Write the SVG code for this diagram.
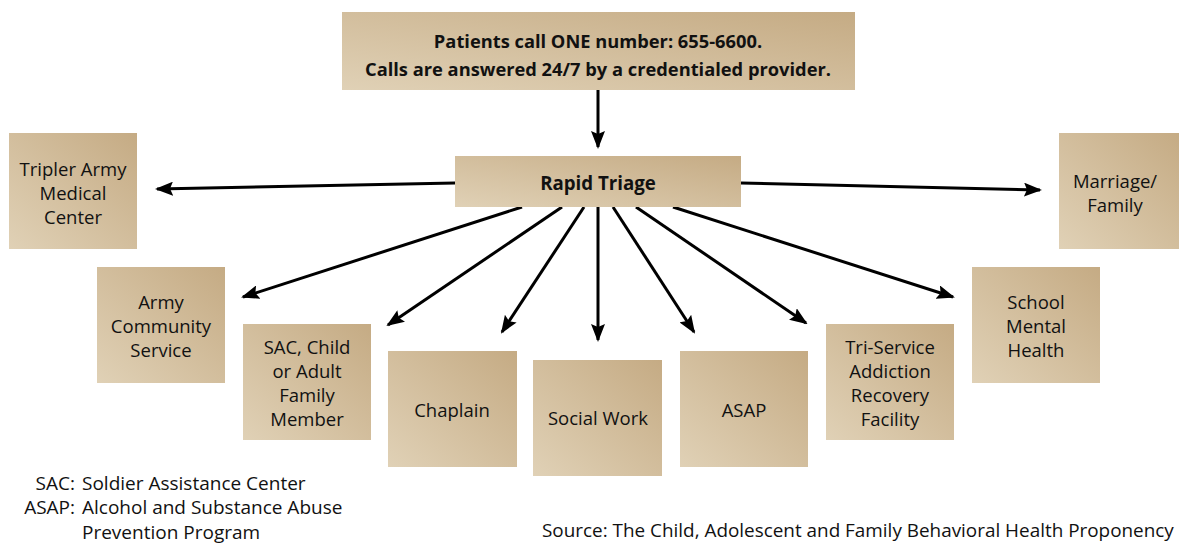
<svg xmlns="http://www.w3.org/2000/svg" width="1179" height="548" viewBox="0 0 1179 548">
<defs>
<linearGradient id="tan" x1="0" y1="1" x2="1" y2="0">
<stop offset="0" stop-color="#e0d1b6"/>
<stop offset="1" stop-color="#c5ab84"/>
</linearGradient>
<marker id="arr" markerUnits="userSpaceOnUse" markerWidth="18" markerHeight="14" refX="16" refY="7" orient="auto">
<path d="M0,0 L18,7 L0,14 L3,7 z" fill="#000"/>
</marker>
</defs>
<style>
.box{fill:url(#tan);}
.t{font-family:"Open Sans","Liberation Sans",sans-serif;font-size:18.5px;fill:#111;text-anchor:middle;}
.b{font-family:"Open Sans","Liberation Sans",sans-serif;font-size:18.3px;font-weight:bold;fill:#111;text-anchor:middle;}
.leg{font-family:"Open Sans","Liberation Sans",sans-serif;font-size:19px;fill:#111;}
.c{stroke:#000;stroke-width:3;fill:none;marker-end:url(#arr);}
</style>
<rect width="1179" height="548" fill="#fff"/>
<g id="connectors">
<line class="c" x1="598" y1="90" x2="598" y2="147"/>
<line class="c" x1="455" y1="183" x2="157" y2="189"/>
<line class="c" x1="741" y1="183" x2="1040" y2="190"/>
<line class="c" x1="522" y1="207" x2="243" y2="297"/>
<line class="c" x1="562" y1="207" x2="388" y2="325"/>
<line class="c" x1="584" y1="207" x2="502" y2="332"/>
<line class="c" x1="598" y1="207" x2="598" y2="340"/>
<line class="c" x1="613" y1="207" x2="694" y2="332"/>
<line class="c" x1="636" y1="207" x2="806" y2="323"/>
<line class="c" x1="673" y1="207" x2="953" y2="297"/>
</g>
<g id="top">
<rect class="box" x="342" y="12" width="513" height="78"/>
<text class="b" x="598" y="48">Patients call ONE number: 655-6600.</text>
<text class="b" x="598" y="76">Calls are answered 24/7 by a credentialed provider.</text>
</g>
<g id="triage">
<rect class="box" x="455" y="156" width="286" height="51"/>
<text class="b" x="598" y="190" style="font-size:18.7px">Rapid Triage</text>
</g>
<g id="tripler">
<rect class="box" x="9" y="133" width="128" height="116"/>
<text class="t" x="73" y="176">Tripler Army</text>
<text class="t" x="73" y="200">Medical</text>
<text class="t" x="73" y="224">Center</text>
</g>
<g id="marriage">
<rect class="box" x="1059" y="133" width="120" height="116"/>
<text class="t" x="1115" y="188">Marriage/</text>
<text class="t" x="1115" y="212">Family</text>
</g>
<g id="acs">
<rect class="box" x="97" y="267" width="128" height="116"/>
<text class="t" x="161" y="309">Army</text>
<text class="t" x="161" y="333">Community</text>
<text class="t" x="161" y="357">Service</text>
</g>
<g id="sac">
<rect class="box" x="243" y="324" width="128" height="116"/>
<text class="t" x="307" y="354">SAC, Child</text>
<text class="t" x="307" y="378">or Adult</text>
<text class="t" x="307" y="402">Family</text>
<text class="t" x="307" y="426">Member</text>
</g>
<g id="chaplain">
<rect class="box" x="388" y="351" width="129" height="116"/>
<text class="t" x="452" y="417">Chaplain</text>
</g>
<g id="socialwork">
<rect class="box" x="533" y="360" width="129" height="116"/>
<text class="t" x="598" y="425">Social Work</text>
</g>
<g id="asap">
<rect class="box" x="680" y="351" width="128" height="116"/>
<text class="t" x="744" y="417">ASAP</text>
</g>
<g id="triservice">
<rect class="box" x="826" y="324" width="128" height="116"/>
<text class="t" x="890" y="354">Tri-Service</text>
<text class="t" x="890" y="378">Addiction</text>
<text class="t" x="890" y="402">Recovery</text>
<text class="t" x="890" y="426">Facility</text>
</g>
<g id="school">
<rect class="box" x="972" y="267" width="128" height="116"/>
<text class="t" x="1036" y="309">School</text>
<text class="t" x="1036" y="333">Mental</text>
<text class="t" x="1036" y="357">Health</text>
</g>
<g id="legend">
<text class="leg" x="75" y="490" text-anchor="end">SAC:</text>
<text class="leg" x="82" y="490">Soldier Assistance Center</text>
<text class="leg" x="75" y="514" text-anchor="end">ASAP:</text>
<text class="leg" x="82" y="514">Alcohol and Substance Abuse</text>
<text class="leg" x="82" y="539">Prevention Program</text>
</g>
<g id="source">
<text class="leg" x="542" y="537" style="font-size:18.9px">Source: The Child, Adolescent and Family Behavioral Health Proponency</text>
</g>
</svg>
